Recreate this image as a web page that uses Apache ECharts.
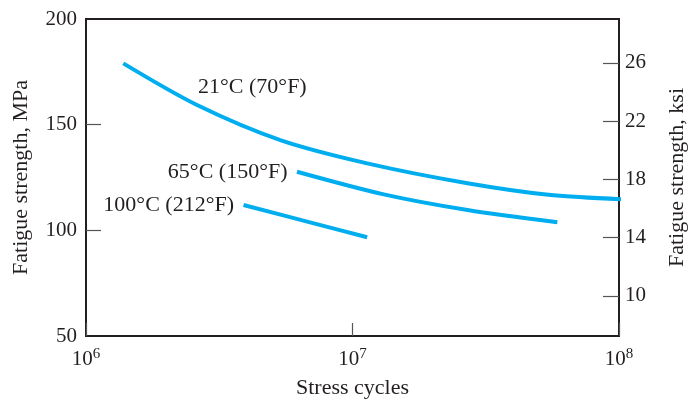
<!DOCTYPE html>
<html><head><meta charset="utf-8">
<script src="https://cdn.jsdelivr.net/npm/echarts@6/dist/echarts.min.js"></script>
<style>html,body{margin:0;padding:0;background:#fff}#c{width:691px;height:401px}</style>
</head><body><div id="c"></div>
<script>
// Data (stress cycles, fatigue strength MPa)
const seriesNames = ['21°C (70°F)', '65°C (150°F)', '100°C (212°F)'];
const cycles21 = [1.38e6, 2.61e6, 5.36e6, 1.135e7, 2.70e7, 5.55e7, 1.045e8];
const mpa21    = [179.0, 159.3, 142.7, 131.7, 122.3, 116.7, 114.7];
const cycles65 = [6.19e6, 1.31e7, 2.70e7, 5.87e7];
const mpa65    = [127.7, 117.0, 109.6, 103.8];
const cycles100 = [3.90e6, 7.16e6, 1.135e7];
const mpa100    = [112.0, 103.3, 96.7];
const label21Pos = [4.21e6, 167.8];
const mpaTicks = [50, 100, 150, 200];
const ksiTicks = [10, 14, 18, 22, 26];
const MPA_PER_KSI = 6.895;

const font = '"Liberation Serif", "Times New Roman", serif';
const ink = '#231f20';
const blue = '#00aeef';
const zip = (xs, ys) => xs.map((x, i) => [x, ys[i]]);

const d21 = zip(cycles21, mpa21), d65 = zip(cycles65, mpa65), d100 = zip(cycles100, mpa100);

const txt = {fontFamily: font, fontSize: 21, color: ink};
const txtBig = {fontFamily: font, fontSize: 22, color: ink};
function mk(series, coord, pos) {
  return {
    symbol: 'rect', symbolSize: 1, itemStyle: {color: 'rgba(0,0,0,0)'},
    label: Object.assign({show: true, position: pos, distance: 9, formatter: series}, txtBig),
    data: [{coord: coord}]
  };
}

const chart = echarts.init(document.getElementById('c'), null, {renderer: 'canvas'});
chart.setOption({
  animation: false,
  backgroundColor: '#fff',
  grid: {left: 86, right: 72, top: 19, bottom: 65, outerBoundsMode: 'none', containLabel: false,
    show: true, borderColor: ink, borderWidth: 2, backgroundColor: 'transparent'},
  xAxis: {
    type: 'log', logBase: 10, min: 1e6, max: 1e8,
    name: 'Stress cycles', nameLocation: 'middle', nameGap: 41,
    nameTextStyle: txtBig,
    axisLine: {show: true, lineStyle: {color: ink, width: 2}},
    axisTick: {show: true, inside: true, length: 13, lineStyle: {color: '#555', width: 1.2}},
    minorTick: {show: false},
    splitLine: {show: false},
    axisLabel: {
      margin: 11,
      formatter: v => '{b|10}{s|' + Math.round(Math.log10(v)) + '}',
      rich: {
        b: {fontFamily: font, fontSize: 21, color: ink},
        s: {fontFamily: font, fontSize: 15, color: ink, padding: [0, 0, 10, 0], verticalAlign: 'bottom'}
      }
    }
  },
  yAxis: [{
    type: 'value', min: 50, max: 200, interval: 50, position: 'left',
    name: 'Fatigue strength, MPa', nameLocation: 'middle', nameGap: 54,
    nameTextStyle: txtBig,
    axisLine: {show: true, lineStyle: {color: ink, width: 2}},
    axisTick: {show: true, inside: true, length: 15, lineStyle: {color: '#555', width: 1.2},
      customValues: mpaTicks.slice(1, 3)},
    axisLabel: Object.assign({margin: 9, customValues: mpaTicks}, txt),
    splitLine: {show: false}
  }, {
    type: 'value', min: 50 / MPA_PER_KSI, max: 200 / MPA_PER_KSI, position: 'right',
    name: 'Fatigue strength, ksi', nameLocation: 'middle', nameGap: 47,
    nameTextStyle: txtBig,
    axisLine: {show: true, lineStyle: {color: ink, width: 2}},
    axisTick: {show: true, inside: true, length: 16, lineStyle: {color: '#555', width: 1.2}, customValues: ksiTicks},
    axisLabel: Object.assign({margin: 6, customValues: ksiTicks}, txt),
    splitLine: {show: false}
  }],
  series: [
    {name: seriesNames[0], type: 'line', data: d21, smooth: 0.3, showSymbol: false, clip: false,
      lineStyle: {color: blue, width: 4}, itemStyle: {color: blue},
      markPoint: mk(seriesNames[0], label21Pos, 'inside')},
    {name: seriesNames[1], type: 'line', data: d65, smooth: 0.3, showSymbol: false,
      lineStyle: {color: blue, width: 4}, itemStyle: {color: blue},
      markPoint: mk(seriesNames[1], d65[0], 'left')},
    {name: seriesNames[2], type: 'line', data: d100, smooth: 0.3, showSymbol: false,
      lineStyle: {color: blue, width: 4}, itemStyle: {color: blue},
      markPoint: mk(seriesNames[2], d100[0], 'left')}
  ]
});
</script></body></html>
